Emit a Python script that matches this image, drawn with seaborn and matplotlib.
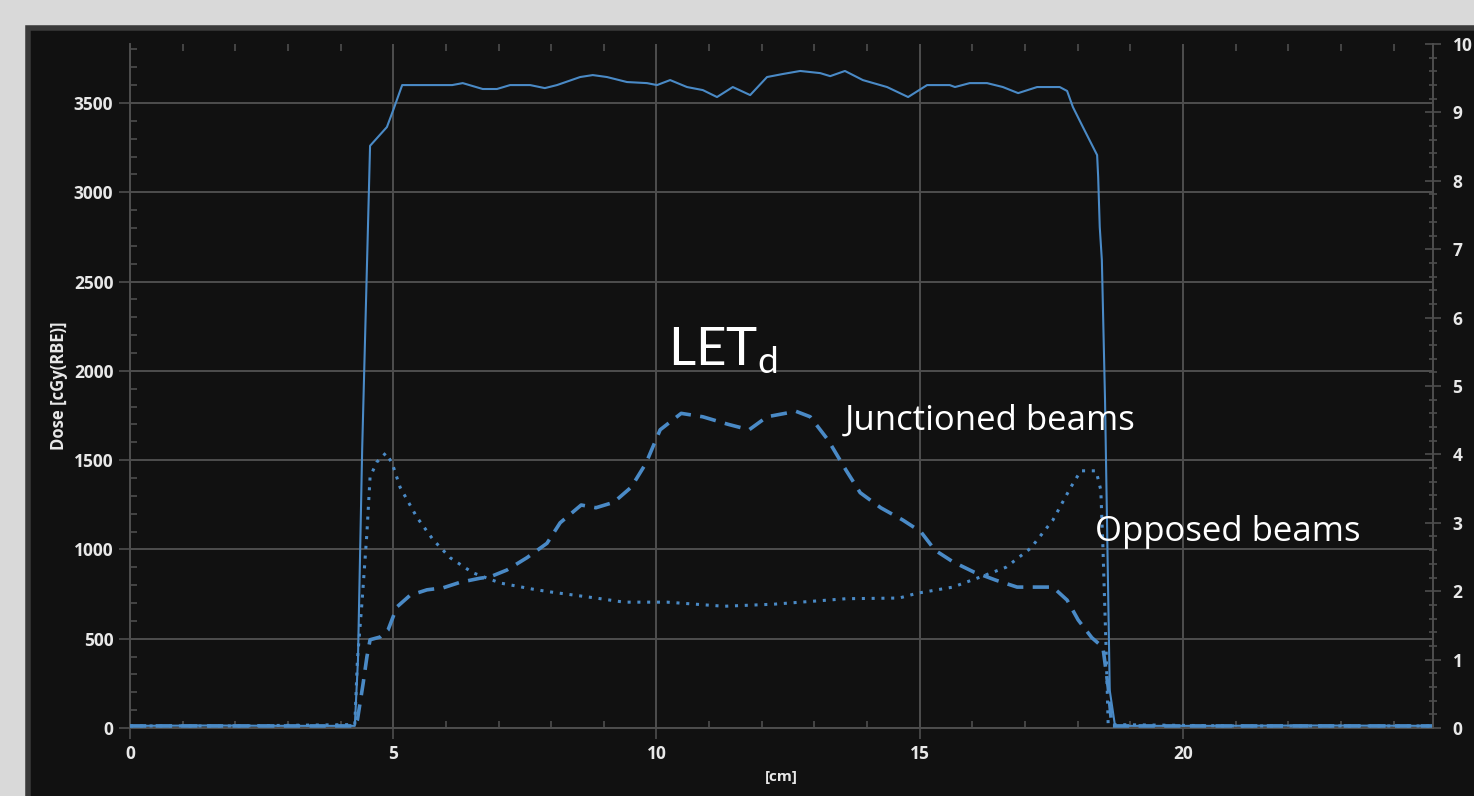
import numpy as np
import pandas as pd
import matplotlib
matplotlib.use("Agg")
import matplotlib.pyplot as plt
import seaborn as sns
from matplotlib.patches import Rectangle
from matplotlib.ticker import MultipleLocator

# depth dose profile (solid)
dose_cm = [0.0, 1.5, 3.0, 4.27, 4.33, 4.41, 4.56, 4.88, 5.00, 5.17, 6.12, 6.32, 6.70,
           6.97, 7.22, 7.60, 7.88, 8.11, 8.55, 8.79, 9.06, 9.44, 9.82, 10.01, 10.26,
           10.58, 10.88, 11.15, 11.45, 11.78, 12.10, 12.40, 12.73, 13.11, 13.30, 13.58,
           13.92, 14.38, 14.78, 15.14, 15.57, 15.67, 15.95, 16.28, 16.58, 16.87, 17.23,
           17.66, 17.80, 17.91, 18.10, 18.37, 18.39, 18.42, 18.46, 18.52, 18.61, 18.71,
           20.5, 22.5, 24.75]
dose_val = [12, 14, 12, 12, 380, 1560, 3260, 3365, 3460, 3600, 3600, 3611, 3578,
            3578, 3600, 3600, 3583, 3600, 3645, 3656, 3645, 3617, 3611, 3600, 3628,
            3589, 3572, 3533, 3589, 3544, 3645, 3662, 3679, 3667, 3650, 3679,
            3628, 3589, 3533, 3600, 3600, 3589, 3611, 3611, 3589, 3555, 3589,
            3589, 3567, 3477, 3365, 3208, 3085, 2805, 2620, 1840, 210, 12,
            12, 14, 12]

# LETd, junctioned beams (dashed)
junc_cm = [0.0, 2.0, 4.27, 4.32, 4.43, 4.50, 4.56, 4.75, 4.90, 5.07, 5.32, 5.64, 5.95,
           6.27, 6.65, 6.84, 7.16, 7.54, 7.92, 8.17, 8.57, 8.85, 9.19, 9.52, 9.80,
           10.07, 10.47, 10.88, 11.36, 11.76, 12.10, 12.65, 12.92, 13.26, 13.60, 13.87,
           14.26, 14.68, 15.02, 15.29, 15.63, 16.03, 16.45, 16.85, 17.53, 17.80, 18.01,
           18.27, 18.48, 18.58, 18.65, 21.0, 24.75]
junc_let = [0.03, 0.03, 0.03, 0.12, 0.66, 1.04, 1.29, 1.33, 1.43, 1.77, 1.94, 2.02, 2.05,
            2.13, 2.19, 2.21, 2.31, 2.49, 2.70, 3.00, 3.26, 3.22, 3.30, 3.52, 3.87,
            4.36, 4.60, 4.55, 4.44, 4.36, 4.55, 4.63, 4.55, 4.21, 3.77, 3.44,
            3.22, 3.04, 2.87, 2.60, 2.43, 2.28, 2.16, 2.06, 2.06, 1.87, 1.58,
            1.32, 1.18, 0.60, 0.03, 0.03, 0.03]

# LETd, opposed beams (dotted)
opp_cm = [0.0, 2.0, 4.27, 4.32, 4.41, 4.50, 4.56, 4.69, 4.86, 4.98, 5.13, 5.45, 5.76,
          6.08, 6.51, 7.03, 7.65, 7.98, 8.17, 8.85, 9.38, 10.20, 11.28, 12.23, 13.60,
          14.61, 14.95, 15.63, 16.16, 16.64, 17.11, 17.53, 17.87, 18.06, 18.35, 18.44,
          18.48, 18.54, 18.58, 21.0, 24.75]
opp_let = [0.03, 0.03, 0.05, 1.00, 1.87, 2.85, 3.67, 3.89, 4.02, 3.87, 3.52, 3.08, 2.75,
           2.49, 2.27, 2.12, 2.03, 1.99, 1.97, 1.90, 1.84, 1.84, 1.78, 1.81, 1.89,
           1.90, 1.97, 2.06, 2.21, 2.35, 2.63, 3.04, 3.52, 3.76, 3.76, 3.48,
           2.65, 1.18, 0.05, 0.03, 0.03]

x_ticks = [0, 5, 10, 15, 20]
dose_ticks = [0, 500, 1000, 1500, 2000, 2500, 3000, 3500]
let_ticks = [0, 1, 2, 3, 4, 5, 6, 7, 8, 9, 10]

BLUE = "#4a8ac6"
GRID = "#4e4e4e"
TXT = "#e8e8e8"

sns.set_theme(style="dark")
plt.rcParams["font.family"] = ["Open Sans", "DejaVu Sans"]
plt.rcParams["mathtext.fontset"] = "custom"
plt.rcParams["mathtext.rm"] = "Lato"

fig = plt.figure(figsize=(14.74, 7.96), dpi=100, facecolor="#d9d9d9")
fig.patches.append(Rectangle((28 / 1474, -0.02), 1.0, 1.02 - 28 / 796, transform=fig.transFigure,
                             facecolor="#111111", edgecolor="#3a3a3a", lw=4, zorder=-10))

ax = fig.add_axes([130 / 1474, 1 - 728 / 796, 1303 / 1474, 684 / 796])
ax.set_facecolor("#111111")

dose_df = pd.DataFrame({"cm": dose_cm, "dose": dose_val})
sns.lineplot(data=dose_df, x="cm", y="dose", ax=ax, color=BLUE, lw=1.5)

ax.set_xlim(0, 24.75)
ax.set_ylim(0, 3830)
ax.set_xticks(x_ticks)
ax.set_xticklabels([str(t) for t in x_ticks], fontweight="bold")
ax.set_yticks(dose_ticks)
ax.set_yticklabels([str(t) for t in dose_ticks], fontweight="bold")
ax.xaxis.set_minor_locator(MultipleLocator(1))
ax.yaxis.set_minor_locator(MultipleLocator(100))
ax.grid(which="major", color=GRID, lw=1.4)
ax.tick_params(which="major", direction="out", length=8, width=1.2, color=GRID,
               labelcolor=TXT, labelsize=12.5, pad=4, bottom=True, left=True)
ax.tick_params(which="minor", direction="in", length=5, width=1.2, color=GRID,
               bottom=True, left=True, top=True)
for side in ["top", "right"]:
    ax.spines[side].set_visible(False)
for side in ["left", "bottom"]:
    ax.spines[side].set_color(GRID)
    ax.spines[side].set_linewidth(1.4)
ax.set_xlabel("[cm]", fontsize=11, fontweight="bold", color=TXT, labelpad=5)
ax.set_ylabel("Dose [cGy(RBE)]", fontsize=12, fontweight="bold", color=TXT, labelpad=4)

ax2 = ax.twinx()
junc_df = pd.DataFrame({"cm": junc_cm, "let": junc_let})
opp_df = pd.DataFrame({"cm": opp_cm, "let": opp_let})
sns.lineplot(data=junc_df, x="cm", y="let", ax=ax2, color=BLUE, lw=2.6,
             linestyle=(0, (4.5, 2.6)))
sns.lineplot(data=opp_df, x="cm", y="let", ax=ax2, color=BLUE, lw=2.2,
             linestyle=(0, (1, 2.2)))
ax2.set_ylim(0, 10)
ax2.set_yticks(let_ticks)
ax2.set_yticklabels([str(t) for t in let_ticks], fontweight="bold")
ax2.yaxis.set_minor_locator(MultipleLocator(0.2))
ax2.set_ylabel("")
ax2.grid(False)
ax2.tick_params(which="major", direction="inout", length=12, width=1.2, color=GRID,
                labelcolor=TXT, labelsize=12.5, pad=8, right=True)
ax2.tick_params(which="minor", direction="inout", length=6, width=1.2, color=GRID, right=True)
for side in ["top", "left", "bottom"]:
    ax2.spines[side].set_visible(False)
ax2.spines["right"].set_color(GRID)
ax2.spines["right"].set_linewidth(1.4)

# annotations
ax2.text(10.22, 5.3, r"LET$_{\mathregular{d}}$", fontsize=38, color="white",
         family="Lato", va="baseline", ha="left")
ax2.text(13.58, 4.50, "Junctioned beams", fontsize=25, color="white",
         family="Open Sans", va="center", ha="left")
ax2.text(18.33, 2.87, "Opposed beams", fontsize=25, color="white",
         family="Open Sans", va="center", ha="left")

fig.savefig("out.png", dpi=100, facecolor=fig.get_facecolor())
